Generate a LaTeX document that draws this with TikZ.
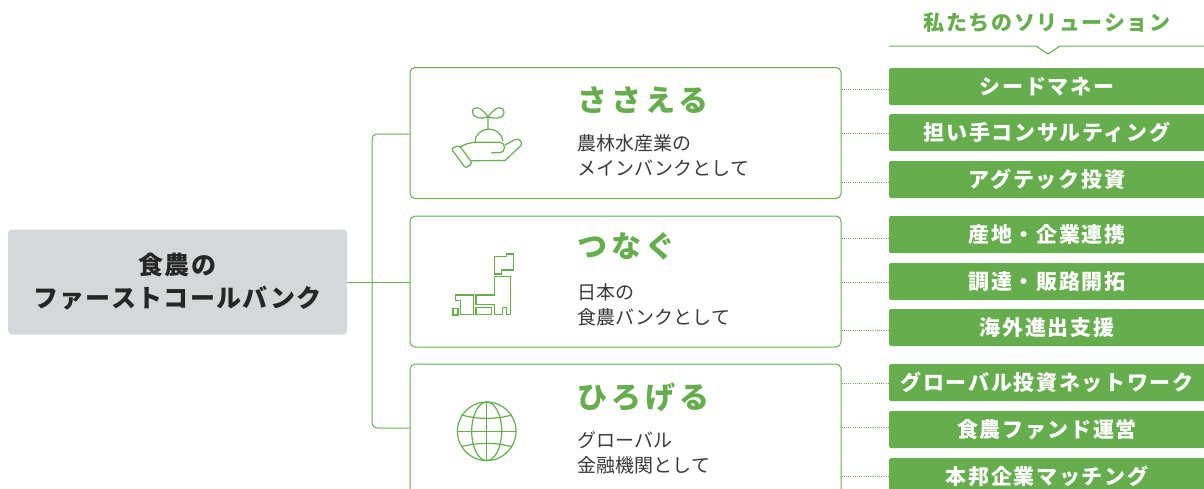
\documentclass[tikz,border=0pt]{standalone}
\usepackage{fontspec}
\setmainfont{Noto Sans CJK JP}
\definecolor{agri}{HTML}{66AD4E}
\definecolor{rootgray}{HTML}{D5D8D8}
\definecolor{bodytext}{HTML}{3A3A3A}
\tikzset{
	rootbox/.style={fill=rootgray, rounded corners=4, minimum width=339, minimum height=105, inner sep=0, align=center, text=black!85, font=\fontsize{25}{33}\selectfont\bfseries\addfontfeature{LetterSpace=5.5}},
	groupbox/.style={draw=agri, fill=white, line width=1, rounded corners=5, minimum width=431, minimum height=131, inner sep=0},
	solbox/.style={fill=agri, rounded corners=1.5, minimum width=316, minimum height=37, inner sep=0, text=white, font=\fontsize{21}{24}\selectfont\bfseries\addfontfeature{LetterSpace=8}},
	title/.style={anchor=west, inner sep=0, text=agri, font=\fontsize{30}{34}\selectfont\bfseries\addfontfeature{LetterSpace=14}},
	body/.style={anchor=west, inner sep=0, align=left, text=bodytext, font=\fontsize{19}{25}\selectfont\addfontfeature{LetterSpace=0.5}},
	head/.style={inner sep=0, text=agri, font=\fontsize{21}{24}\selectfont\bfseries\addfontfeature{LetterSpace=7.5}},
	conn/.style={draw=agri, line width=1},
	dotline/.style={draw=agri, line width=1, dash pattern=on 1 off 1.2},
	icon/.style={draw=agri, line width=1.2, line join=round, line cap=round},
}
\begin{document}
\begin{tikzpicture}[x=1pt,y=-1pt]
	\useasboundingbox (0,0) rectangle (1204,488);
	\clip (0,0) rectangle (1204,488);
	% left
	\node[rootbox] (root) at (177.5,282) {食農の\\ファーストコールバンク};
	% middle
	\node[groupbox] (box1) at (625.5,133) {};
	\node[groupbox] (box2) at (625.5,281.5) {};
	\node[groupbox] (box3) at (625.5,429.5) {};
	\draw[conn] (root.east) -- (box2.west |- root.east);
	\draw[conn, rounded corners=5] (box1.west |- 0,134) -| (372,282) |- (box3.west |- 0,428);
	\node[title] (title1) at (577,100) {ささえる};
	\node[title] (title2) at (577,246) {つなぐ};
	\node[title] (title3) at (577,397) {ひろげる};
	\node[body] (body1) at (577,155.5) {農林水産業の\\メインバンクとして};
	\node[body] (body2) at (577,304.5) {日本の\\食農バンクとして};
	\node[body] (body3) at (577,453) {グローバル\\金融機関として};
	% right
	\node[head] (head) at (1047,23) {私たちのソリューション};
	\coordinate (headl) at (889,46);
	\coordinate (headr) at (1204,46);
	\draw[conn] (headl) -- (1036,46) -- (1048,54) -- (1060,46) -- (headr);
	\foreach \n/\y/\t in {1/86.5/シードマネー, 2/132.5/担い手コンサルティング, 3/179.5/アグテック投資,
		4/234.5/産地・企業連携, 5/281.5/調達・販路開拓, 6/327.5/海外進出支援,
		7/382.5/グローバル投資ネットワーク, 8/429.5/食農ファンド運営, 9/476.5/本邦企業マッチング}
		\node[solbox] (sol\n) at (1047,\y) {\raisebox{-1pt}{\t}};
	\foreach \b/\n/\y in {1/1/89, 1/2/133, 1/3/182, 2/4/238, 2/5/282, 2/6/330, 3/7/383, 3/8/427, 3/9/476}
		\draw[dotline] (box\b.east |- 0,\y) -- (sol\n.west |- 0,\y);
	% sprout and hand
	\draw[icon] (488,117) .. controls (480,105) and (472,106) .. (472.7,112) .. controls (473,119) and (482,119) .. (488,117) .. controls (494,119) and (504,119) .. (504,112) .. controls (504,106) and (496,105) .. (488,117) -- (488,129);
	\draw[icon] (475,142) .. controls (476,125) and (501,125) .. (502.7,141);
	\draw[icon, rounded corners=2.5] (451,148.5) -- (459.3,145.3) -- (472.3,163.3) -- (465.7,168.3) -- cycle;
	\draw[icon] (460,147) .. controls (465,144) and (470,142.5) .. (476.7,142.3) -- (500,142.3) .. controls (506,142.5) and (506,152.5) .. (500,152.7) -- (491.7,152.7);
	\draw[icon] (505,145) -- (515,139.5) .. controls (519,138) and (523,142) .. (521,145.5) -- (505,160.5) -- (471.7,160.7);
	% japan
	\draw[icon, line cap=butt, line join=miter] (494.3,256.7) -- (506.7,256.7) -- (506.7,254) -- (513.3,254) -- (513.3,270) -- (501.7,270) -- (501.7,274) -- (494.3,274) -- cycle;
	\draw[icon, line cap=butt, line join=miter] (494.3,276.7) -- (510.7,276.7) -- (510.7,314.3) -- (506.7,314.3) -- (506.7,307.7) -- (502.3,307.7) -- (502.3,314.3) -- (494.3,314.3) -- (494.3,304.3) -- (476,304.3) -- (476,295) -- (494.3,295) -- cycle;
	\draw[icon, line cap=butt, line join=miter] (455.3,295) -- (473.3,295) -- (473.3,314.3) -- (460.7,314.3) -- (460.7,300.7) -- (455.3,300.7) -- cycle;
	\draw[icon, line cap=butt, line join=miter] (476,307.7) rectangle (491.7,314.3);
	\draw[icon, line cap=butt, line join=miter] (453,308.7) rectangle (458,315);
	% globe
	\draw[icon] (486.7,431.3) circle (29.3);
	\draw[icon] (486.7,431.3) ellipse (15 and 29.3);
	\draw[icon] (486.7,402) -- (486.7,460.6);
	\draw[icon] (457.4,431.3) -- (516,431.3);
	\draw[icon] (461.7,415) .. controls (478,419.5) and (495,419.5) .. (511.7,415);
	\draw[icon] (461.7,446.7) .. controls (478,442.2) and (495,442.2) .. (511.7,446.7);
\end{tikzpicture}
\end{document}
